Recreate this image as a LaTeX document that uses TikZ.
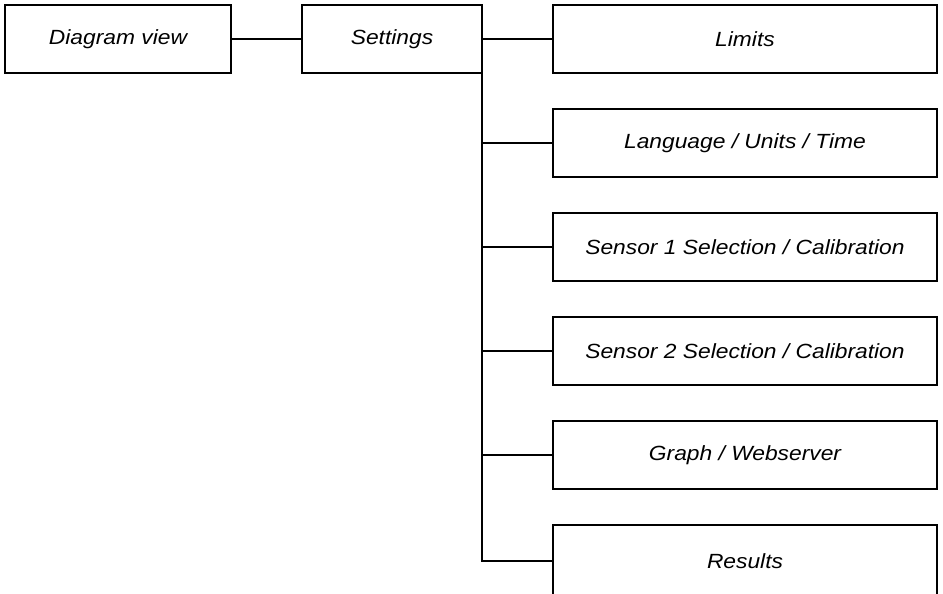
\documentclass[tikz,border=0pt]{standalone}
\usepackage{fontspec}
\setmainfont{Liberation Sans}[FakeStretch=1.11]
\begin{document}
\begin{tikzpicture}[x=0.75pt,y=-0.75pt,
  menubox/.style={draw=black,line width=1.9pt,minimum height=51pt,
    inner sep=0pt,outer sep=0pt,font=\fontsize{15.4}{17}\selectfont\itshape},
  leftbox/.style={menubox,minimum width=169.5pt},
  midbox/.style={menubox,minimum width=135pt},
  subbox/.style={menubox,minimum width=288pt},
  link/.style={draw=black,line width=1.9pt}]
\useasboundingbox (0,0) rectangle (943,593);
\node[leftbox] (view) at (118,39) {Diagram view};
\node[midbox] (settings) at (392,39) {Settings};
\node[subbox] (limits) at (745,39) {Limits};
\node[subbox] (lang) at (745,143) {Language / Units / Time};
\node[subbox] (sens1) at (745,247) {Sensor 1 Selection / Calibration};
\node[subbox] (sens2) at (745,351) {Sensor 2 Selection / Calibration};
\node[subbox] (graph) at (745,455) {Graph / Webserver};
\node[subbox,minimum height=54pt] (results) at (745,561) {Results};
% connectors
\draw[link] (view.east) -- (settings.west);
\draw[link] (settings.east) -- (limits.west);
\draw[link] (settings.south east) |- (results.west);
\foreach \n in {lang,sens1,sens2,graph}
  \draw[link] (settings.south east |- \n.west) -- (\n.west);
\end{tikzpicture}
\end{document}
